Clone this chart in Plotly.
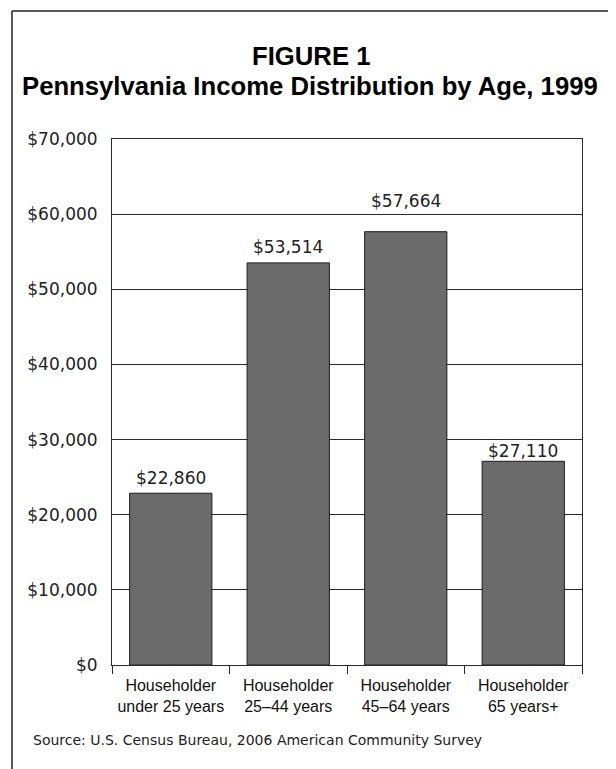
import plotly.graph_objects as go

categories = ["Householder<br>under 25 years", "Householder<br>25–44 years",
              "Householder<br>45–64 years", "Householder<br>65 years+"]
values = [22860, 53514, 57664, 27110]
value_labels = ["$22,860", "$53,514", "$57,664", "$27,110"]
y_ticks = [0, 10000, 20000, 30000, 40000, 50000, 60000, 70000]
y_tick_labels = ["$0", "$10,000", "$20,000", "$30,000", "$40,000",
                 "$50,000", "$60,000", "$70,000"]

# label pixel offsets above bar tops (styling)
label_shift = [15, 16, 31, 10]

OFF = 8  # page body margin
W, H = 616 - OFF, 769 - OFF
# plot area in screen pixels: x 112..582, y 139..665
L, T = 112 - OFF, 139 - OFF
R, B = W - (582 - OFF), H - (665 - OFF)
PW, PH = W - L - R, H - T - B

def px_x(sx):
    return (sx - OFF - L) / PW

def px_y(sy):
    return (H - B - (sy - OFF)) / PH

LINE = "#2a2a2a"
fig = go.Figure()
fig.add_trace(go.Bar(
    x=categories, y=values,
    marker=dict(color="#6b6b6b", line=dict(color="#1a1a1a", width=1)),
    width=0.7, hoverinfo="skip",
))

for cat, v, lab, s in zip(categories, values, value_labels, label_shift):
    fig.add_annotation(x=cat, y=v, text=lab, showarrow=False, yanchor="middle",
                       yshift=s, font=dict(family="DejaVu Sans", size=17, color="#222"))

fig.add_annotation(xref="paper", yref="paper", x=px_x(311), y=px_y(56), text="<b>FIGURE 1</b>",
                   showarrow=False, xanchor="center", yanchor="middle",
                   font=dict(family="Liberation Sans", size=25.7, color="#000"))
fig.add_annotation(xref="paper", yref="paper", x=px_x(310), y=px_y(86),
                   text="<b>Pennsylvania Income Distribution by Age, 1999</b>",
                   showarrow=False, xanchor="center", yanchor="middle",
                   font=dict(family="Liberation Sans", size=25.7, color="#000"))
fig.add_annotation(xref="paper", yref="paper", x=px_x(31), y=px_y(740),
                   text="Source: U.S. Census Bureau, 2006 American Community Survey",
                   showarrow=False, xanchor="left", yanchor="middle",
                   font=dict(family="DejaVu Sans", size=14, color="#222"))

# outer frame (top and left edges)
fig.add_shape(type="line", xref="paper", yref="paper", x0=px_x(12), x1=px_x(630),
              y0=px_y(11), y1=px_y(11), line=dict(color="#222", width=1.5))
fig.add_shape(type="line", xref="paper", yref="paper", x0=px_x(12), x1=px_x(12),
              y0=px_y(11), y1=px_y(790), line=dict(color="#222", width=1.5))

fig.update_layout(
    width=W, height=H,
    margin=dict(l=L, r=R, t=T, b=B),
    paper_bgcolor="white", plot_bgcolor="white",
    showlegend=False, bargap=0.3,
)
fig.update_xaxes(
    showline=True, linecolor=LINE, linewidth=1, mirror=True,
    ticks="outside", tickson="boundaries", ticklen=8, tickcolor=LINE, tickwidth=1,
    showgrid=False, ticklabelstandoff=6,
    tickfont=dict(family="Liberation Sans", size=16, color="#111"),
)
fig.update_yaxes(
    range=[0, 70000], tickvals=y_ticks, ticktext=y_tick_labels,
    showline=True, linecolor=LINE, linewidth=1, mirror=True,
    showgrid=True, gridcolor=LINE, gridwidth=1, zeroline=False,
    ticks="", ticklabelstandoff=10,
    tickfont=dict(family="DejaVu Sans", size=17, color="#222"),
)

fig.write_html("out.html")
